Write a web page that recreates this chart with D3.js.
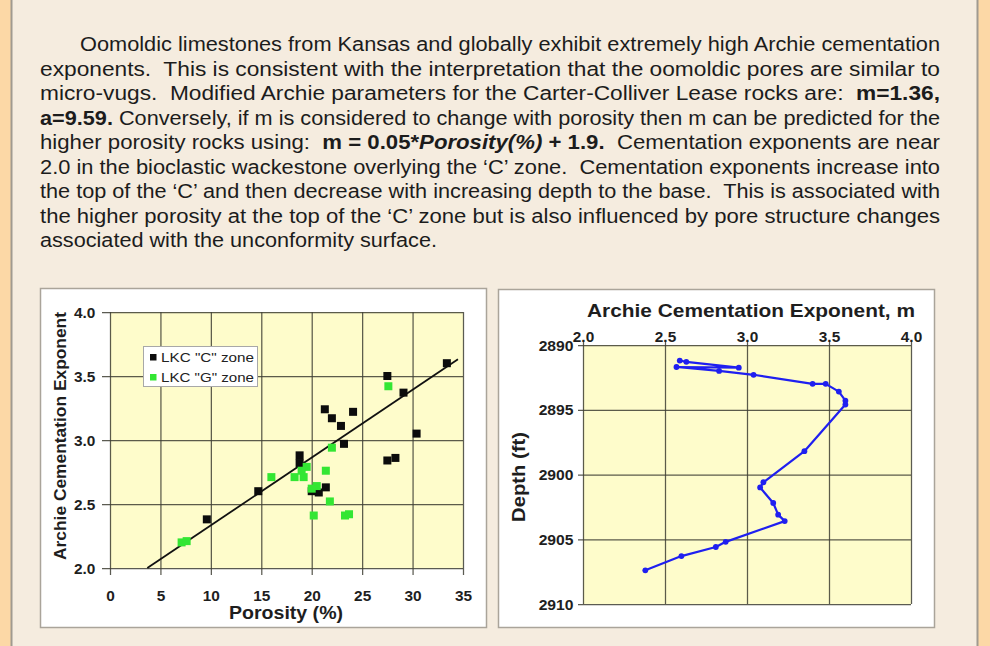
<!DOCTYPE html>
<html><head><meta charset="utf-8">
<script src="https://cdn.jsdelivr.net/npm/d3@7"></script>
<style>
html,body{margin:0;padding:0;background:#f5ecdf;}
svg{display:block;font-family:"Liberation Sans",Arial,Helvetica,sans-serif;}
</style></head>
<body>
<svg id="c" width="990" height="646"></svg>
<script>
// ---------- DATA ----------
// Paragraph lines (segments: b = bold, i = italic)
const paraLines = [
  [{t:"Oomoldic limestones from Kansas and globally exhibit extremely high Archie cementation"}],
  [{t:"exponents.  This is consistent with the interpretation that the oomoldic pores are similar to"}],
  [{t:"micro-vugs.  Modified Archie parameters for the Carter-Colliver Lease rocks are:  "},{t:"m=1.36,",b:1}],
  [{t:"a=9.59.",b:1},{t:" Conversely, if m is considered to change with porosity then m can be predicted for the"}],
  [{t:"higher porosity rocks using:  "},{t:"m = 0.05*",b:1},{t:"Porosity(%)",b:1,i:1},{t:" + 1.9.",b:1},{t:"  Cementation exponents are near"}],
  [{t:"2.0 in the bioclastic wackestone overlying the \u2018C\u2019 zone.  Cementation exponents increase into"}],
  [{t:"the top of the \u2018C\u2019 and then decrease with increasing depth to the base.  This is associated with"}],
  [{t:"the higher porosity at the top of the \u2018C\u2019 zone but is also influenced by pore structure changes"}],
  [{t:"associated with the unconformity surface."}]
];

// Left chart: porosity (%) vs Archie cementation exponent
const cZoneLabel = "LKC \"C\" zone";
const gZoneLabel = "LKC \"G\" zone";
const cPorosity = [9.6,14.7,18.8,18.8,20.0,20.7,21.4,21.3,22.0,22.9,24.1,23.2,27.5,29.1,30.4,27.5,28.3,33.4];
const cExponent = [2.38,2.60,2.88,2.82,2.60,2.59,2.63,3.24,3.17,3.11,3.22,2.97,3.50,3.37,3.05,2.84,2.86,3.60];
const gPorosity = [7.1,7.6,16.0,18.3,19.2,19.5,19.0,21.4,20.0,20.5,22.0,21.8,20.2,23.3,23.7,27.6];
const gExponent = [2.20,2.21,2.71,2.71,2.71,2.79,2.76,2.76,2.62,2.64,2.94,2.52,2.41,2.41,2.42,3.42];
const trendPorosity = [3.7, 34.5];
const trendExponent = [2.0, 3.63];
const porosityTicks = [0,5,10,15,20,25,30,35];
const exponentTicks = [2.0,2.5,3.0,3.5,4.0];
const leftXTitle = "Porosity (%)";
const leftYTitle = "Archie Cementation Exponent";

// Right chart: exponent m vs depth
const mValues = [2.59,2.63,2.95,2.57,2.83,3.04,3.40,3.48,3.56,3.60,3.60,3.35,3.10,3.08,3.16,3.19,3.23,2.87,2.81,2.60,2.38];
const depthValues = [2891.2,2891.3,2891.75,2891.7,2892.0,2892.3,2893.0,2893.0,2893.6,2894.3,2894.6,2898.2,2900.6,2901.0,2902.2,2903.1,2903.6,2905.2,2905.6,2906.3,2907.4];
const mTicks = [2.0,2.5,3.0,3.5,4.0];
const depthTicks = [2890,2895,2900,2905,2910];
const rightTitle = "Archie Cementation Exponent, m";
const rightYTitle = "Depth (ft)";

// ---------- DRAW ----------
const svg = d3.select("#c");
// page frame
svg.append("rect").attr("x",0).attr("y",0).attr("width",990).attr("height",646).attr("fill","#fcd8a6");
svg.append("rect").attr("x",12).attr("y",0).attr("width",965).attr("height",646).attr("fill","#f5ecdf");
svg.append("line").attr("x1",11.5).attr("x2",11.5).attr("y1",0).attr("y2",646).attr("stroke","#a09a90").attr("stroke-width",2);
svg.append("line").attr("x1",977.5).attr("x2",977.5).attr("y1",0).attr("y2",646).attr("stroke","#a09a90").attr("stroke-width",2);

// paragraph
const lineStart = [80,40,40,40,40,40,40,40,40];
const lineEnd = [940,940,940,940,940,940,940,940,437];
const baseY = 51, lineGap = 24.5;
paraLines.forEach((segs,i)=>{
  const t = svg.append("text")
    .attr("x",lineStart[i]).attr("y",baseY+i*lineGap)
    .attr("font-size",19.5).attr("fill","#1c1c1c")
    .attr("textLength",lineEnd[i]-lineStart[i])
    .attr("lengthAdjust","spacingAndGlyphs")
    .style("white-space","pre");
  segs.forEach(s=>{
    t.append("tspan").text(s.t)
      .attr("font-weight",s.b?"bold":"normal")
      .attr("font-style",s.i?"italic":"normal");
  });
});

// helper for labels
function label(x,y,s,o){
  const g = svg.append("g").attr("transform",`translate(${x},${y}) rotate(${o.rot||0})`);
  const t = g.append("text").text(s)
    .attr("text-anchor",o.anchor||"middle")
    .attr("font-size",o.size).attr("font-weight",o.weight||"bold")
    .attr("fill",o.fill||"#1e1e1e");
  if(o.len) t.attr("textLength",o.len).attr("lengthAdjust","spacingAndGlyphs");
  return t;
}
function styleAxis(a){
  a.select(".domain").remove();
  a.selectAll(".tick line").attr("stroke","#3e3e34").attr("stroke-width",1.25).attr("stroke-opacity",0.85);
  a.selectAll(".tick text").style("font-size","14px").style("font-weight","bold").attr("fill","#1e1e1e")
    .style("font-family","'Liberation Sans', Arial, sans-serif");
}

// ===== Left chart =====
svg.append("rect").attr("x",40.5).attr("y",288.5).attr("width",446).attr("height",339)
  .attr("fill","#ffffff").attr("stroke","#aaa49a").attr("stroke-width",1.5);
const x1 = d3.scaleLinear().domain([0,35]).range([110,463]);
const y1 = d3.scaleLinear().domain([2,4]).range([568,312]);
const pH1 = y1(2)-y1(4), pW1 = x1(35)-x1(0);
svg.append("rect").attr("x",x1(0)).attr("y",y1(4)).attr("width",pW1).attr("height",pH1).attr("fill","#fefccb");

const ax1 = svg.append("g").attr("transform",`translate(0,${y1(2)+7})`)
  .call(d3.axisBottom(x1).tickValues(porosityTicks).tickFormat(d3.format("d")).tickSize(-(pH1+7)).tickSizeOuter(0).tickPadding(16));
const ay1 = svg.append("g").attr("transform",`translate(${x1(0)-8},0)`)
  .call(d3.axisLeft(y1).tickValues(exponentTicks).tickFormat(d3.format(".1f")).tickSize(-(pW1+8)).tickSizeOuter(0).tickPadding(6));
styleAxis(ax1); styleAxis(ay1);
ax1.selectAll(".tick text").attr("dy","0.71em").attr("transform","scale(1.1,1)");
ay1.selectAll(".tick text").attr("transform","scale(1.1,1)").attr("dy","0.36em");

// trend line
const trend = trendPorosity.map((p,i)=>[p,trendExponent[i]]);
svg.append("path").datum(trend)
  .attr("d",d3.line().x(d=>x1(d[0])).y(d=>y1(d[1])))
  .attr("stroke","#111").attr("stroke-width",1.8).attr("fill","none");

const sq = 8;
svg.append("g").selectAll("rect").data(cPorosity.map((p,i)=>[p,cExponent[i]])).join("rect")
  .attr("x",d=>x1(d[0])-sq/2).attr("y",d=>y1(d[1])-sq/2).attr("width",sq).attr("height",sq)
  .attr("fill","#0c0c0c");
svg.append("g").selectAll("rect").data(gPorosity.map((p,i)=>[p,gExponent[i]])).join("rect")
  .attr("x",d=>x1(d[0])-sq/2).attr("y",d=>y1(d[1])-sq/2).attr("width",sq).attr("height",sq)
  .attr("fill","#33e633");

// legend
const lg = svg.append("g").attr("transform","translate(143,346)");
lg.append("rect").attr("x",0.5).attr("y",0.5).attr("width",114).attr("height",40).attr("fill","#fff").attr("stroke","#a8a8a8");
[[cZoneLabel,"#0c0c0c"],[gZoneLabel,"#33e633"]].forEach((d,i)=>{
  lg.append("rect").attr("x",7).attr("y",8+i*20).attr("width",6.5).attr("height",6.5).attr("fill",d[1]);
  lg.append("text").attr("x",18).attr("y",16+i*20).text(d[0]).attr("font-size",12).attr("fill","#222")
    .attr("textLength",93).attr("lengthAdjust","spacingAndGlyphs");
});

label(286,619,leftXTitle,{size:18,len:114});
label(66,436,leftYTitle,{size:17,rot:-90,len:248});

// ===== Right chart =====
svg.append("rect").attr("x",498.5).attr("y",289.5).attr("width",436).attr("height",338)
  .attr("fill","#ffffff").attr("stroke","#aaa49a").attr("stroke-width",1.5);
const x2 = d3.scaleLinear().domain([2,4]).range([583,911]);
const y2 = d3.scaleLinear().domain([2890,2910]).range([345,604]);
const pH2 = y2(2910)-y2(2890), pW2 = x2(4)-x2(2);
svg.append("rect").attr("x",x2(2)).attr("y",y2(2890)).attr("width",pW2).attr("height",pH2).attr("fill","#fefccb");

const ax2 = svg.append("g").attr("transform",`translate(0,${y2(2890)-5})`)
  .call(d3.axisTop(x2).tickValues(mTicks).tickFormat(d3.format(".1f")).tickSize(-(pH2+5)).tickSizeOuter(0).tickPadding(7));
const ay2 = svg.append("g").attr("transform",`translate(${x2(2)-5},0)`)
  .call(d3.axisLeft(y2).tickValues(depthTicks).tickFormat(d3.format("d")).tickSize(-(pW2+5)).tickSizeOuter(0).tickPadding(4));
styleAxis(ax2); styleAxis(ay2);
ax2.selectAll(".tick text").attr("transform","scale(1.1,1)").attr("dy","0em").attr("y",2);
ay2.selectAll(".tick text").attr("transform","scale(1.12,1)").attr("dy","0.36em");

const series = mValues.map((m,i)=>[m,depthValues[i]]);
svg.append("path").datum(series)
  .attr("d",d3.line().x(d=>x2(d[0])).y(d=>y2(d[1])))
  .attr("stroke","#1f1ff0").attr("stroke-width",2.2).attr("fill","none").attr("stroke-linejoin","round");
svg.append("g").selectAll("circle").data(series).join("circle")
  .attr("cx",d=>x2(d[0])).attr("cy",d=>y2(d[1])).attr("r",2.9).attr("fill","#1f1ff0");

label(751,317,rightTitle,{size:19,len:328});
label(525,477,rightYTitle,{size:18,rot:-90,len:90});
</script>
</body></html>
